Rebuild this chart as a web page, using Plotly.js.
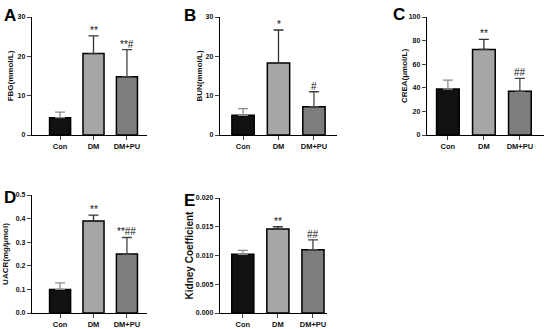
<!DOCTYPE html>
<html><head><meta charset="utf-8">
<script src="https://cdn.plot.ly/plotly-3.0.1.min.js"></script>
<style>html,body{margin:0;padding:0;background:#fff}#c{width:550px;height:329px}</style>
</head><body><div id="c"></div>
<script>
const categories = ["Con", "DM", "DM+PU"];
const fbgMean = [4.4, 20.7, 14.8];
const fbgTop = [5.8, 25.2, 21.7];
const fbgSig = ["", "**", "**#"];
const bunMean = [5.0, 18.3, 7.2];
const bunTop = [6.7, 26.7, 11.0];
const bunSig = ["", "*", "#"];
const creaMean = [39, 72.5, 37];
const creaTop = [46.5, 81, 48];
const creaSig = ["", "**", "##"];
const uacrMean = [0.10, 0.39, 0.25];
const uacrTop = [0.128, 0.415, 0.32];
const uacrSig = ["", "**", "**##"];
const kcMean = [0.0102, 0.0146, 0.0110];
const kcTop = [0.0109, 0.0150, 0.0127];
const kcSig = ["", "**", "##"];

const panels = [
  {mean: fbgMean, top: fbgTop, sig: fbgSig, title: "FBG(mmol/L)", letter: "A", yr: [0, 30], dt: 10, fmt: "d",
   xd: [32, 147], yd: [17, 135], xr: [-0.84, 2.6], tsz: 8, standoff: 2, lx: 2, ly: 4},
  {mean: bunMean, top: bunTop, sig: bunSig, title: "BUN(mmol/L)", letter: "B", yr: [0, 30], dt: 10, fmt: "d",
   xd: [220, 337], yd: [17, 135], xr: [-0.65, 2.65], tsz: 8, standoff: 1, lx: 182, ly: 4},
  {mean: creaMean, top: creaTop, sig: creaSig, title: "CREA(μmol/L)", letter: "C", yr: [0, 100], dt: 20, fmt: "d",
   xd: [427, 544], yd: [17, 135], xr: [-0.58, 2.67], tsz: 8, standoff: 0, lx: 391, ly: 3},
  {mean: uacrMean, top: uacrTop, sig: uacrSig, title: "UACR(mg/μmol)", letter: "D", yr: [0, 0.5], dt: 0.1, fmt: ".1f",
   xd: [32, 147], yd: [195, 313], xr: [-0.84, 2.6], tsz: 8, standoff: 5, lx: 2, ly: 186},
  {mean: kcMean, top: kcTop, sig: kcSig, title: "Kidney Coefficient", letter: "E", yr: [0, 0.020], dt: 0.005, fmt: ".3f",
   xd: [220, 327], yd: [198, 313], xr: [-0.65, 2.4], tsz: 10, standoff: 0, lx: 182, ly: 189}
];

const W = 550, H = 329;
const fills = ["#111111", "#a6a6a6", "#7d7d7d"];
const errCols = ["#8a8a8a", "#333333", "#444444"];
const fam = "Liberation Sans, Arial, sans-serif";
const traces = [];
const layout = {
  width: W, height: H, margin: {l: 0, r: 0, t: 0, b: 0},
  paper_bgcolor: "#fff", plot_bgcolor: "#fff", showlegend: false,
  font: {family: fam, color: "#111"}, annotations: [], bargap: 0
};

panels.forEach((p, i) => {
  const n = i + 1;
  const xa = "x" + (n === 1 ? "" : n), ya = "y" + (n === 1 ? "" : n);
  for (let k = 0; k < categories.length; k++) {
    traces.push({
      type: "bar", x: [k], y: [p.mean[k]], xaxis: xa, yaxis: ya, width: 0.63,
      marker: {color: fills[k], line: {color: "#000", width: 1.5}},
      error_y: {type: "data", symmetric: false, array: [p.top[k] - p.mean[k]], arrayminus: [0],
        color: errCols[k], thickness: 1.3, width: 5},
      hoverinfo: "skip"
    });
    if (p.sig[k]) {
      layout.annotations.push({
        xref: xa, yref: ya, x: k, y: p.top[k], text: p.sig[k], showarrow: false,
        yanchor: "bottom", yshift: -2, font: {size: 10, family: fam, color: "#111"}
      });
    }
  }
  layout["xaxis" + (n === 1 ? "" : n)] = {
    domain: [p.xd[0] / W, p.xd[1] / W], range: p.xr, anchor: ya,
    tickvals: [0, 1, 2], ticktext: categories, ticks: "outside", ticklen: 4, tickwidth: 1,
    showline: true, linecolor: "#000", linewidth: 1.2, showgrid: false, zeroline: false,
    tickfont: {size: 7.5, family: fam, weight: "bold", color: "#111"}, fixedrange: true
  };
  layout["yaxis" + (n === 1 ? "" : n)] = {
    domain: [1 - p.yd[1] / H, 1 - p.yd[0] / H], range: p.yr, anchor: xa, dtick: p.dt, tick0: 0,
    tickformat: p.fmt, ticks: "outside", ticklen: 4, tickwidth: 1,
    showline: true, linecolor: "#000", linewidth: 1.2, showgrid: false, zeroline: false,
    tickfont: {size: 7, family: fam, weight: "bold", color: "#111"},
    title: {text: p.title, standoff: p.standoff, font: {size: p.tsz, family: fam, weight: "bold", color: "#111"}},
    fixedrange: true
  };
  layout.annotations.push({
    xref: "paper", yref: "paper", x: p.lx / W, y: 1 - p.ly / H, xanchor: "left", yanchor: "top",
    text: p.letter, showarrow: false, font: {size: 17, family: fam, weight: "bold", color: "#000"}
  });
});

Plotly.newPlot("c", traces, layout, {displayModeBar: false, staticPlot: true});
</script></body></html>
